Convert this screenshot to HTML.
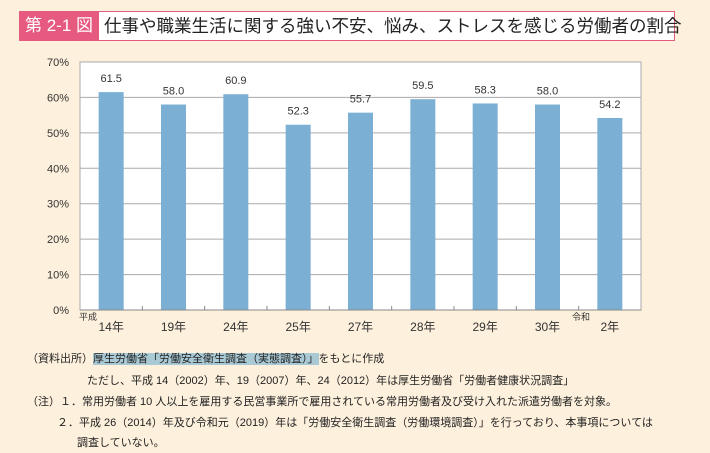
<!DOCTYPE html>
<html><head><meta charset="utf-8"><style>
body{margin:0;width:710px;height:453px;background:#fdf0dc;font-family:"Liberation Sans","Noto Sans CJK JP",sans-serif;position:relative;overflow:hidden;color:#222}
.t{position:absolute;white-space:nowrap}
</style></head><body>
<div style="position:absolute;left:19px;top:11px;width:656px;height:30px;border:1.5px solid #e75a80;background:#fff;box-sizing:border-box"></div>
<div class="t" style="left:19px;top:11px;width:80px;height:30px;background:#e75a80;color:#fff;font-size:17px;line-height:30px;text-align:center">第 2-1 図</div>
<div class="t" style="left:104px;top:11px;font-size:17.5px;line-height:30px;color:#222">仕事や職業生活に関する強い不安、悩み、ストレスを感じる労働者の割合</div>
<svg width="710" height="345" style="position:absolute;left:0;top:0" id="ch"></svg>
<div class="t" style="left:27px;top:350px;font-size:11px">（資料出所）<span style="background:#a9c9d4">厚生労働省「労働安全衛生調査（実態調査）」</span>をもとに作成</div>
<div class="t" style="left:87px;top:372px;font-size:11px">ただし、平成 14（2002）年、19（2007）年、24（2012）年は厚生労働省「労働者健康状況調査」</div>
<div class="t" style="left:27px;top:393px;font-size:11px">（注）１．常用労働者 10 人以上を雇用する民営事業所で雇用されている常用労働者及び受け入れた派遣労働者を対象。</div>
<div class="t" style="left:57px;top:414px;font-size:11px">２．平成 26（2014）年及び令和元（2019）年は「労働安全衛生調査（労働環境調査）」を行っており、本事項については</div>
<div class="t" style="left:77px;top:434px;font-size:11px">調査していない。</div>
<script>
const categories=["14年","19年","24年","25年","27年","28年","29年","30年","2年"];
const values=[61.5,58.0,60.9,52.3,55.7,59.5,58.3,58.0,54.2];
const yTicks=[0,10,20,30,40,50,60,70];
const svg=document.getElementById('ch');const NS='http://www.w3.org/2000/svg';
const L=80,R=641,T=62,B=310,yMax=70;
const y=v=>B-(v/yMax)*(B-T);const cw=(R-L)/categories.length;const x=i=>L+cw*i;
function mk(tag,a,txt){const e=document.createElementNS(NS,tag);for(const k in a)e.setAttribute(k,a[k]);if(txt!=null)e.textContent=txt;svg.appendChild(e);return e;}
const bg=mk('rect',{x:L,y:T,width:R-L,height:B-T,fill:'#fff',stroke:'#aaa'});


yTicks.forEach(t=>{
const g=mk('line',{x1:L,x2:R,y1:y(t),y2:y(t),stroke:'#aaa','stroke-width':1});


const tl=mk('text',{x:L-11,y:y(t)+4,'text-anchor':'end','font-size':11,fill:'#333'},t+'%');


});
categories.forEach((c,i)=>{
const bw=25;const cx=x(i)+cw/2;
const b=mk('rect',{x:cx-bw/2,y:y(values[i]),width:bw,height:B-y(values[i]),fill:'#7bafd4'});


const v=mk('text',{x:cx,y:y(values[i])-10,'text-anchor':'middle','font-size':11,fill:'#333'},values[i].toFixed(1));


const cl=mk('text',{x:cx,y:331,'text-anchor':'middle','font-size':12,fill:'#333'},c);


if(i>0){const tk=mk('line',{x1:x(i),x2:x(i),y1:B,y2:B-4,stroke:'#888'});

}
});
const ax=mk('line',{x1:L,x2:R,y1:B,y2:B,stroke:'#888'});


const e1=mk('text',{x:79,y:320,'font-size':9,fill:'#333'},'平成');


const e2=mk('text',{x:572,y:320,'font-size':9,fill:'#333'},'令和');


</script>
</body></html>
